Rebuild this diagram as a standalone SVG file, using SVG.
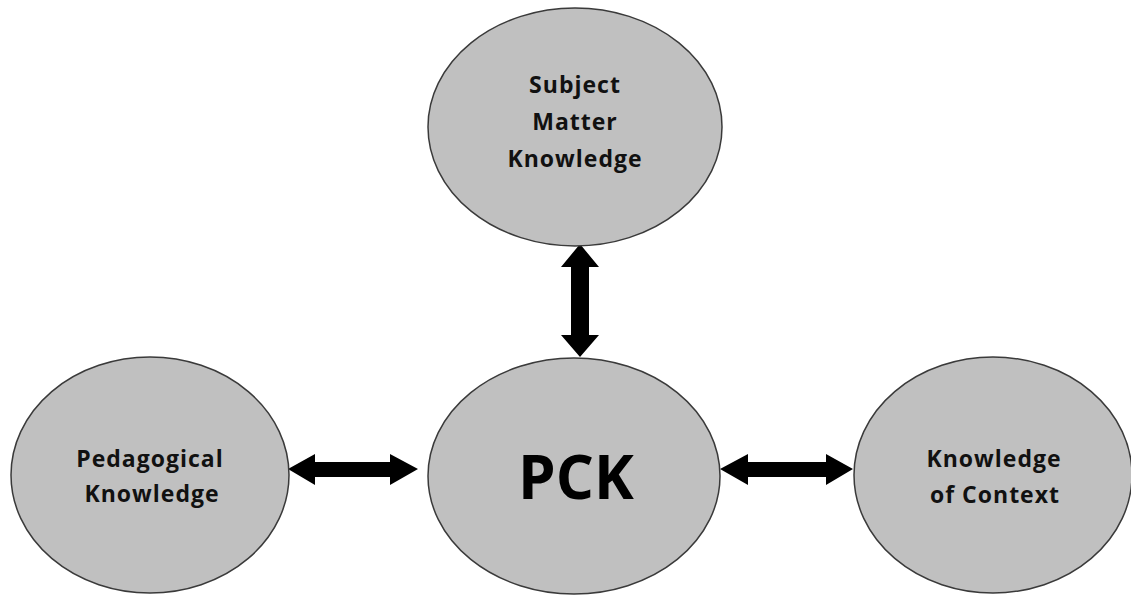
<svg xmlns="http://www.w3.org/2000/svg" width="1131" height="595" viewBox="0 0 1131 595">
<style>
.node{fill:#c0c0c0;stroke:#3a3a3a;stroke-width:1.5}
.lbl{font-family:"Open Sans","Liberation Sans",sans-serif;font-weight:bold;font-size:23px;fill:#111;text-anchor:middle;letter-spacing:1px}
.big{font-family:"Open Sans","Liberation Sans",sans-serif;font-weight:bold;font-size:60px;fill:#000;text-anchor:middle}
.arr{fill:#000}
</style>
<rect width="1131" height="595" fill="#fff"/>
<g id="connectors">
<path class="arr" d="M580,244 L599,267 L589,267 L589,335 L599,335 L580,357 L561,335 L571,335 L571,267 L561,267 Z"/>
<path class="arr" d="M288,469 L315,454 L315,462 L390,462 L390,454 L418,469 L390,485 L390,477 L315,477 L315,485 Z"/>
<path class="arr" d="M720,469 L748,454 L748,462 L826,462 L826,454 L853,469 L826,485 L826,477 L748,477 L748,485 Z"/>
</g>
<g id="subject">
<ellipse class="node" cx="575" cy="127" rx="147" ry="119"/>
<text class="lbl" x="575" y="93">Subject</text>
<text class="lbl" x="575" y="130">Matter</text>
<text class="lbl" x="575" y="167">Knowledge</text>
</g>
<g id="pck">
<ellipse class="node" cx="574" cy="476" rx="146" ry="118"/>
<text class="big" x="576" y="499">PCK</text>
</g>
<g id="pedagogical">
<ellipse class="node" cx="150" cy="475" rx="139" ry="118"/>
<text class="lbl" x="150" y="467">Pedagogical</text>
<text class="lbl" x="152" y="502">Knowledge</text>
</g>
<g id="context">
<ellipse class="node" cx="993" cy="475" rx="139" ry="118"/>
<text class="lbl" x="994" y="467">Knowledge</text>
<text class="lbl" x="995" y="503">of Context</text>
</g>
</svg>
